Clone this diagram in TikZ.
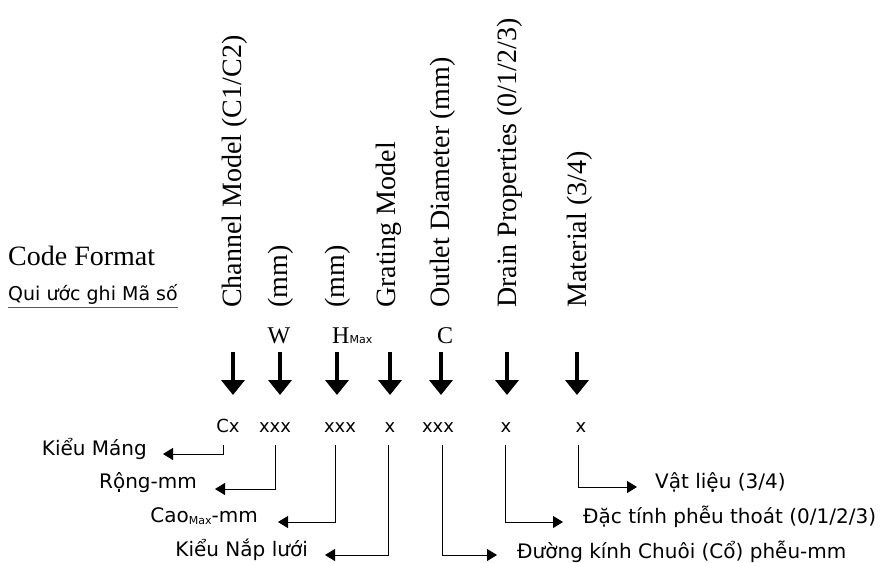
\documentclass[tikz,border=0pt]{standalone}
\usepackage{fontspec}
\newfontfamily\gothic{DejaVu Sans}
\newfontfamily\oldserif{Liberation Serif}
\usetikzlibrary{arrows.meta,positioning}

\begin{document}
\begin{tikzpicture}[x=1pt, y=-1pt,
    head/.style={font=\oldserif\fontsize{28}{28}\selectfont, rotate=90, anchor=base west, inner sep=0pt},
    dim/.style={font=\oldserif\fontsize{24}{24}\selectfont, anchor=base, inner sep=0pt},
    code/.style={font=\gothic\fontsize{18}{18}\selectfont, anchor=base, inner xsep=0pt, inner ysep=13pt},
    part/.style={font=\gothic\fontsize{20}{20}\selectfont, inner sep=0pt},
    bigarrow/.style={line width=4pt, -{Triangle[width=23pt,length=15pt]}},
    leader/.style={line width=0.9pt, -{Triangle[width=12pt,length=10pt]}},
]

    % Page
    \path[use as bounding box, fill=white] (0,0) rectangle (882,562);

    % Title
    \node[font=\oldserif\fontsize{28}{28}\selectfont, anchor=base west, inner sep=0pt] (title) at (8,265) {Code Format};
    \node[part, anchor=base west, font=\gothic\fontsize{19}{19}\selectfont] (subtitle) at (8,300) {Qui ước ghi Mã số};
    \draw[gray!70!black, line width=1pt] ([yshift=-3pt]subtitle.south west) -- ([yshift=-3pt]subtitle.south east);

    % Column headings
    \node[head] (hdChannel) at (241,308) {Channel Model (C1/C2)};
    \node[head] (hdWidth)   at (287,308) {(mm)};
    \node[head] (hdHeight)  at (344,308) {(mm)};
    \node[head] (hdGrating) at (395,308) {Grating Model};
    \node[head] (hdOutlet)  at (449,308) {Outlet Diameter (mm)};
    \node[head] (hdDrain)   at (516,308) {Drain Properties (0/1/2/3)};
    \node[head] (hdMat)     at (586,308) {Material (3/4)};

    % Symbols
    \node[dim] (symW) at (279,343) {W};
    \node[dim, anchor=base west] (symH) at (332,343) {H{\gothic\fontsize{11}{11}\selectfont Max}};
    \node[dim] (symC) at (445,343) {C};

    % Arrows down
    \foreach \x in {233,280,337,390,441,507,577}
        \draw[bigarrow] (\x,352) -- (\x,395);

    % Code
    \node[code] (cChannel) at (228,432) {Cx};
    \node[code] (cWidth)   at (275,432) {xxx};
    \node[code] (cHeight)  at (340,432) {xxx};
    \node[code] (cGrating) at (390,432) {x};
    \node[code] (cOutlet)  at (438,432) {xxx};
    \node[code] (cDrain)   at (506,432) {x};
    \node[code] (cMat)     at (581,432) {x};

    % Arrow ends
    \coordinate (tChannel) at (163,454);
    \coordinate (tWidth)   at (215,489);
    \coordinate (tHeight)  at (278,522);
    \coordinate (tGrating) at (325,555);
    \coordinate (tOutlet)  at (497,555);
    \coordinate (tDrain)   at (563,522);
    \coordinate (tMat)     at (637,487);

    % Meanings
    \node[part, left=16pt of tChannel, anchor=base east, yshift=-1pt] (lChannel) {Kiểu Máng};
    \node[part, left=18pt of tWidth, anchor=base east, yshift=1pt] (lWidth) {Rộng-mm};
    \node[part, left=20pt of tHeight, anchor=base east, yshift=0pt] (lHeight)
        {Cao\raisebox{-2pt}{\fontsize{11}{11}\selectfont Max}-mm};
    \node[part, left=17pt of tGrating, anchor=base east, yshift=-1pt] (lGrating) {Kiểu Nắp lưới};
    \node[part, right=20pt of tOutlet, anchor=base west, yshift=-3pt] (lOutlet) {Đường kính Chuôi (Cổ) phễu-mm};
    \node[part, right=20pt of tDrain, anchor=base west, yshift=-1pt] (lDrain) {Đặc tính phễu thoát (0/1/2/3)};
    \node[part, right=18pt of tMat, anchor=base west, yshift=-1pt] (lMat) {Vật liệu (3/4)};

    % Leaders
    \draw[leader] ([xshift=-5pt]cChannel.south) |- (tChannel);
    \draw[leader] (cWidth.south) |- (tWidth);
    \draw[leader] ([xshift=-5pt]cHeight.south) |- (tHeight);
    \draw[leader] ([xshift=-2pt]cGrating.south) |- (tGrating);
    \draw[leader] ([xshift=4pt]cOutlet.south) |- (tOutlet);
    \draw[leader] ([xshift=-1pt]cDrain.south) |- (tDrain);
    \draw[leader] ([xshift=-3pt]cMat.south) |- (tMat);

\end{tikzpicture}
\end{document}
